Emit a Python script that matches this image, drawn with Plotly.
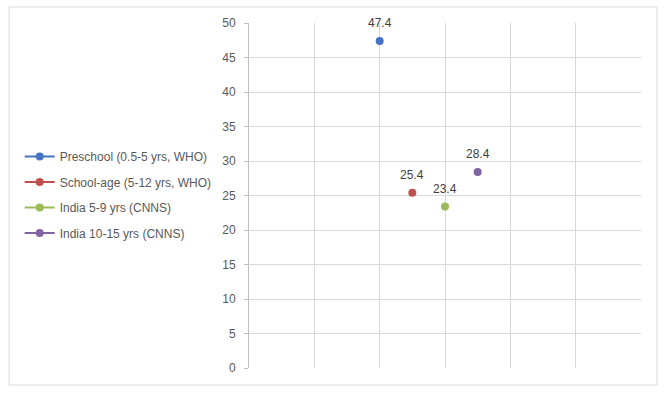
import plotly.graph_objects as go

series_names = [
    "Preschool (0.5-5 yrs, WHO)",
    "School-age (5-12 yrs, WHO)",
    "India 5-9 yrs (CNNS)",
    "India 10-15 yrs (CNNS)",
]
x_positions = [1, 2, 3, 4]
values = [47.4, 25.4, 23.4, 28.4]
colors = ["#4472C4", "#C0504D", "#9BBB59", "#8064A2"]
y_ticks = [0, 5, 10, 15, 20, 25, 30, 35, 40, 45, 50]

FONT = "Liberation Sans"

fig = go.Figure()
for i, name in enumerate(series_names):
    fig.add_trace(go.Scatter(
        x=[x_positions[i]], y=[values[i]],
        mode="lines+markers",
        name=name,
        legendgroup=f"g{i}",
        marker=dict(color=colors[i], size=8),
        line=dict(color=colors[i], width=2),
        cliponaxis=False,
    ))

annotations = [
    dict(x=x_positions[i], y=values[i], xref="x", yref="y",
         text=f"{values[i]:.1f}", showarrow=False, yshift=18,
         font=dict(family=FONT, size=12, color="#404040"))
    for i in range(len(values))
]

fig.update_layout(
    width=665, height=394,
    margin=dict(l=249, r=24, t=23, b=26),
    paper_bgcolor="white",
    plot_bgcolor="white",
    font=dict(family=FONT, size=12, color="#595959"),
    showlegend=True,
    legend=dict(
        x=-0.585, y=0.655, xanchor="left", yanchor="top",
        font=dict(family=FONT, size=12, color="#595959"),
        tracegroupgap=6.5,
        bgcolor="rgba(0,0,0,0)",
    ),
    xaxis=dict(
        range=[-3, 9], tick0=-3, dtick=2,
        showgrid=True, gridcolor="#D9D9D9", gridwidth=1,
        showticklabels=False, zeroline=False, showline=False,
        ticks="",
    ),
    yaxis=dict(
        range=[0, 50], tickvals=y_ticks,
        showgrid=True, gridcolor="#D9D9D9", gridwidth=1,
        zeroline=False,
        showline=True, linecolor="#BFBFBF", linewidth=1,
        ticks="outside", ticklen=4, tickcolor="#BFBFBF",
        ticklabelstandoff=6,
        tickfont=dict(family=FONT, size=12, color="#595959"),
    ),
    annotations=annotations,
    shapes=[dict(
        type="rect", xref="paper", yref="paper",
        x0=-0.612, x1=1.0408, y0=-0.0493, y1=1.0464,
        line=dict(color="#D9D9D9", width=1), layer="below",
    )],
)

fig.write_html("out.html", config={"displayModeBar": False},
               post_script="document.body.style.margin='0';")
